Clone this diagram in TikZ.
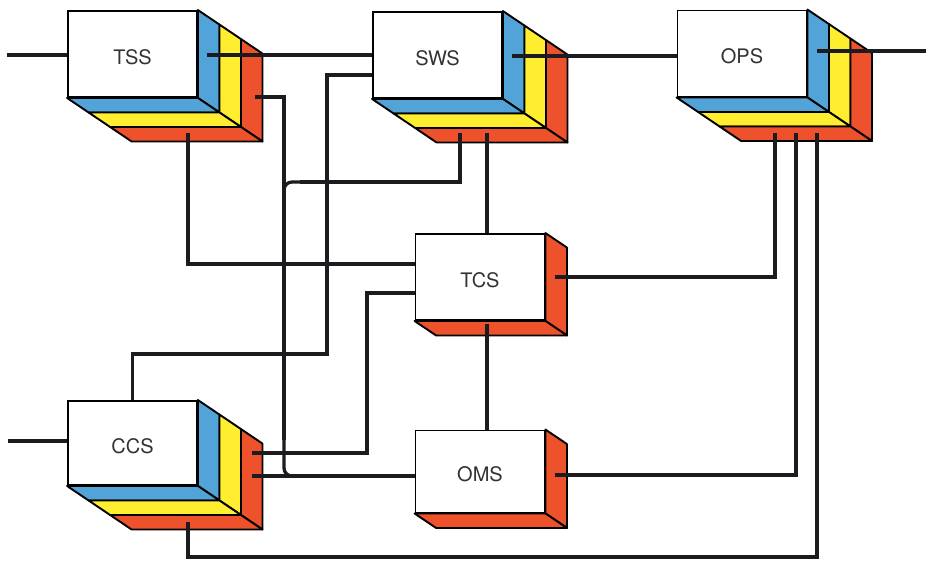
\documentclass[tikz,border=0pt]{standalone}
\usepackage{fontspec}
\setmainfont{TeX Gyre Heros}
\usetikzlibrary{calc}

\definecolor{slabblue}{RGB}{82,164,216}
\definecolor{slabyellow}{RGB}{255,238,48}
\definecolor{slabred}{RGB}{238,82,44}
\definecolor{labelgray}{RGB}{50,50,50}
\definecolor{linkblack}{RGB}{28,28,32}

\newcommand{\unitlabel}[1]{\raisebox{-3pt}[\height][\depth]{#1}}

\tikzset{
  unitbox/.style={draw=black, fill=white, line width=1.9pt, minimum width=129pt,
    minimum height=86pt, inner sep=0pt, font=\fontsize{20}{24}\selectfont, text=labelgray},
  slab/.style={draw=black, line width=1.9pt, line join=round},
  link/.style={draw=linkblack, line width=3.3pt},
}

% Extrude the front face of a unit backwards into coloured slabs
% #1 = node name, #2 = list of slab colours (front to back)
\newcommand{\extrude}[2]{%
  \foreach \slabcol [count=\k from 0] in {#2} {
    \path[slab, fill=\slabcol]
      ($(#1.north east)+({\k*21.5},{\k*14.5})$) -- ++(21.5,14.5)
      -- ($(#1.south east)+({(\k+1)*21.5},{(\k+1)*14.5})$)
      -- ($(#1.south east)+({\k*21.5},{\k*14.5})$) -- cycle;
    \path[slab, fill=\slabcol]
      ($(#1.south west)+({\k*21.5},{\k*14.5})$)
      -- ($(#1.south east)+({\k*21.5},{\k*14.5})$)
      -- ++(21.5,14.5)
      -- ($(#1.south west)+({(\k+1)*21.5},{(\k+1)*14.5})$) -- cycle;
  }}

\begin{document}
\begin{tikzpicture}[x=1pt, y=-1pt]
\useasboundingbox (0,0) rectangle (928,560);

% units
\node[unitbox] (tss) at (132.5,54) {\unitlabel{TSS}};
\node[unitbox] (sws) at (437.5,55) {\unitlabel{SWS}};
\node[unitbox] (ops) at (742,53.5) {\unitlabel{OPS}};
\node[unitbox] (tcs) at (480,277) {\unitlabel{TCS}};
\node[unitbox, minimum height=82pt] (oms) at (480,471.5) {\unitlabel{OMS}};
\node[unitbox, minimum height=84pt] (ccs) at (132.5,443) {\unitlabel{CCS}};

\extrude{tss}{slabblue,slabyellow,slabred}
\extrude{sws}{slabblue,slabyellow,slabred}
\extrude{ops}{slabblue,slabyellow,slabred}
\extrude{ccs}{slabblue,slabyellow,slabred}
\extrude{tcs}{slabred}
\extrude{oms}{slabred}

% ports on the slab faces and free line ends
\coordinate (inTSS) at (7,55);
\coordinate (tssR) at (207,55);
\coordinate (tssRed) at (255,97);
\coordinate (tssB) at (188,133);
\coordinate (swsR) at (512,56);
\coordinate (swsL) at ($(sws.west)+(0,20)$);
\coordinate (swsB1) at (460,133);
\coordinate (swsB2) at (487,133);
\coordinate (opsR) at (817,51);
\coordinate (outOPS) at (926,51);
\coordinate (opsB1) at (775,133);
\coordinate (opsB2) at (796,133);
\coordinate (opsB3) at (817,133);
\coordinate (tcsL1) at ($(tcs.west)+(0,-13)$);
\coordinate (tcsL2) at ($(tcs.west)+(0,16)$);
\coordinate (tcsR) at (555,277);
\coordinate (tcsB) at (487,324);
\coordinate (omsR) at (555,475);
\coordinate (inCCS) at (8,441);
\coordinate (ccsR1) at (252,453);
\coordinate (ccsR2) at (252,476);
\coordinate (ccsB) at (188,522);
\coordinate (trunkA) at (284,440);
\coordinate (trunkB) at (327,354);
\coordinate (trunkC) at (367,453);
\coordinate (bottomRun) at (817,557);

% connections
\draw[link] (inTSS) -- (inTSS -| tss.west);
\draw[link] (tssR) -- (tssR -| sws.west);
\draw[link] (swsR) -- (swsR -| ops.west);
\draw[link] (opsR) -- (outOPS);
\draw[link] (inCCS) -- (inCCS -| ccs.west);

\draw[link] (tssRed) -| (trunkA);
\draw[link, rounded corners=8pt] (284,428) |- (302,476);
\draw[link] (swsB1) |- (300,182);
\draw[link, rounded corners=8pt] (312,182) -| (284,206);

\draw[link] (swsB2) -- (swsB2 |- tcs.north);
\draw[link] (swsL) -| (trunkB) -| (ccs.north);
\draw[link] (tssB) |- (tcsL1);
\draw[link] (tcsL2) -| (trunkC) -- (ccsR1);
\draw[link] (ccsR2) -- (ccsR2 -| oms.west);
\draw[link] (tcsB) -- (tcsB |- oms.north);
\draw[link] (tcsR) -| (opsB1);
\draw[link] (omsR) -| (opsB2);
\draw[link] (ccsB) |- (bottomRun) -- (opsB3);
\end{tikzpicture}
\end{document}
